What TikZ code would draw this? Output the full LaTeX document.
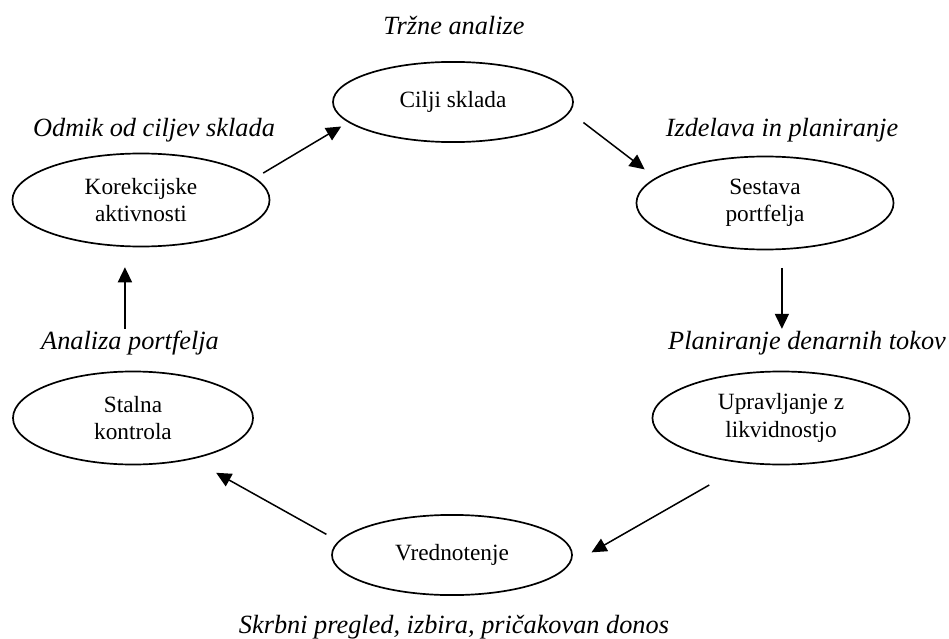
\documentclass[tikz,border=0pt]{standalone}
\usepackage{fontspec}
\setmainfont{Liberation Serif}
\usetikzlibrary{arrows.meta,calc,shapes.geometric}
\tikzset{
  stage/.style={
    ellipse, draw, line width=0.9pt, align=center,
    font=\fontsize{12.4}{14.6}\selectfont,
    minimum width=4.49cm, minimum height=1.5cm
  },
  widestage/.style={stage, minimum width=4.81cm, minimum height=1.74cm},
  note/.style={font=\fontsize{14}{16.8}\selectfont\itshape, inner sep=1pt},
  flow/.style={-{Triangle[length=8pt,width=7.5pt]}, line width=0.8pt}
}

\begin{document}
\begin{tikzpicture}[x=0.0187cm,y=-0.0187cm]
        \useasboundingbox (0,0) rectangle (949,639);
        \node[stage] (cil) at (453,102) {Cilji sklada};
        \node[widestage] (ses) at (765,203) {Sestava\\portfelja};
        \node[widestage] (upr) at (781,418) {Upravljanje z\\likvidnostjo};
        \node[stage] (vre) at (452,555) {Vrednotenje};
        \node[stage,minimum height=1.74cm] (sta) at (133,418) {Stalna\\kontrola};
        \node[widestage] (kor) at (141,200) {Korekcijske\\aktivnosti};
        \node[note] (trz) at (454,25) {Tržne analize};
        \node[note] (odm) at (154,130) {Odmik od ciljev sklada};
        \node[note] (izd) at (782,130) {Izdelava in planiranje};
        \node[note] (ana) at (130,343) {Analiza portfelja};
        \node[note] (pla) at (807,343) {Planiranje denarnih tokov};
        \node[note] (skr) at (454,627) {Skrbni pregled, izbira, pričakovan donos};
        \draw[flow,shorten <=4.9pt,shorten >=4.3pt] (kor.11)--(cil.191);
        \draw[flow,shorten <=9pt,shorten >=7.3pt] (cil.355)--(ses.167);
        \draw[flow,shorten <=9.3pt] ([xshift=9pt]ses.south)--([xshift=9pt]ses.south |- pla.north);
        \draw[flow,shorten <=22.9pt,shorten >=13.8pt] (upr.233)--(vre.355);
        \draw[flow,shorten <=7.3pt,shorten >=14.7pt] (vre.173)--(sta.325);
        \draw[flow,shorten >=10.6pt] ([xshift=-2.7pt]ana.north)--([xshift=-2.7pt]ana.north |- kor.south);
      \end{tikzpicture}
\end{document}
